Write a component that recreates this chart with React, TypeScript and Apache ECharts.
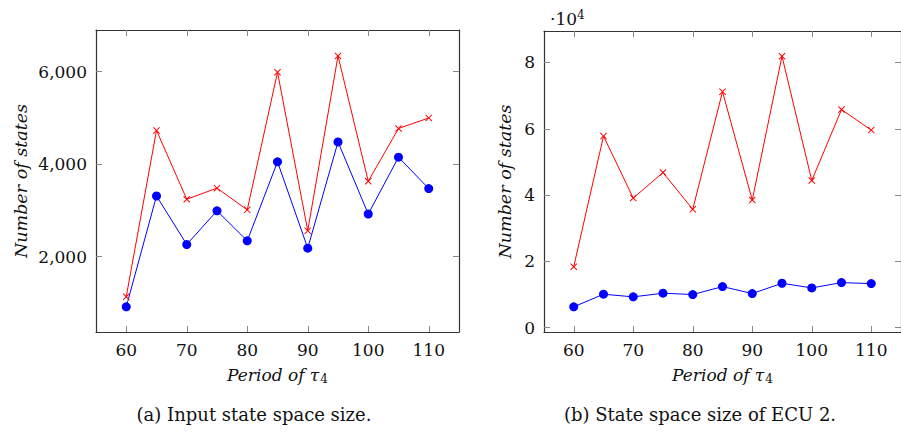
import React, { useEffect, useRef } from "react";
import * as echarts from "echarts";

const periods = [60, 65, 70, 75, 80, 85, 90, 95, 100, 105, 110];
const inputRed = [1130, 4730, 3240, 3480, 3010, 5990, 2560, 6340, 3630, 4770, 5000];
const inputBlue = [910, 3310, 2260, 2990, 2340, 4050, 2180, 4480, 2920, 4150, 3470];
const ecuRed = [18400, 57800, 39100, 46800, 35700, 71200, 38500, 81900, 44400, 65800, 59600];
const ecuBlue = [6300, 10100, 9300, 10400, 10000, 12400, 10300, 13400, 12000, 13600, 13300];
const xTicks = [60, 70, 80, 90, 100, 110];
const leftYTicks = [2000, 4000, 6000];
const rightYTicks = [0, 20000, 40000, 60000, 80000];
const captions = ["(a) Input state space size.", "(b) State space size of ECU 2."];

const SERIF = "DejaVu Serif";
const CROSS = "path://M0,1 L1,0 L5,4 L9,0 L10,1 L6,5 L10,9 L9,10 L5,6 L1,10 L0,9 L4,5 Z";

export default function App() {
  const ref = useRef<HTMLDivElement>(null);
  useEffect(() => {
    if (!ref.current) return;
    const chart = echarts.init(ref.current, null, { renderer: "svg" });
    const frame = { show: true, lineStyle: { color: "#333", width: 1.2 } };
    const tick = (vals: number[]) => ({
      show: true,
      inside: true,
      length: 6,
      customValues: vals,
      lineStyle: { color: "#888", width: 1 },
    });
    const xBase = (gridIndex: number, position: "bottom" | "top", withLabel: boolean, withName: boolean) => ({
      type: "value",
      gridIndex,
      position,
      min: 55,
      max: 115,
      axisLine: { ...frame, onZero: false },
      axisTick: tick(xTicks),
      splitLine: { show: false },
      axisLabel: {
        show: withLabel,
        customValues: xTicks,
        margin: 9,
        color: "#111",
        fontFamily: SERIF,
        fontSize: 17,
      },
      name: withName ? "Period of τ{sub|4}" : "",
      nameLocation: "middle",
      nameGap: 32,
      nameTextStyle: {
        fontFamily: SERIF,
        fontStyle: "italic",
        fontSize: 17,
        color: "#111",
        rich: {
          sub: { fontFamily: SERIF, fontStyle: "normal", fontSize: 12, verticalAlign: "bottom", padding: [9, 0, 0, 1], color: "#111" },
        },
      },
    });
    const yBase = (
      gridIndex: number,
      position: "left" | "right",
      min: number,
      max: number,
      vals: number[],
      withLabel: boolean,
      fmt: (v: number) => string,
      nameGap: number
    ) => ({
      type: "value",
      gridIndex,
      position,
      min,
      max,
      axisLine: { ...frame, onZero: false },
      axisTick: tick(vals),
      splitLine: { show: false },
      axisLabel: {
        show: withLabel,
        customValues: vals,
        margin: 9,
        color: "#111",
        fontFamily: SERIF,
        fontSize: 17,
        formatter: fmt,
      },
      name: withLabel ? "Number of states" : "",
      nameLocation: "middle",
      nameGap,
      nameTextStyle: { fontFamily: SERIF, fontStyle: "italic", fontSize: 17.5, color: "#111" },
    });
    const fmtComma = (v: number) => v.toLocaleString("en-US");
    const fmtE4 = (v: number) => String(Math.round(v / 10000));
    const pairs = (ys: number[]) => periods.map((p, i) => [p, ys[i]]);
    const blueSeries = (xi: number, yi: number, ys: number[]) => ({
      type: "line",
      xAxisIndex: xi,
      yAxisIndex: yi,
      data: pairs(ys),
      symbol: "circle",
      symbolSize: 9,
      lineStyle: { color: "#0000ff", width: 1 },
      itemStyle: { color: "#0000ff" },
    });
    const redSeries = (xi: number, yi: number, ys: number[]) => ({
      type: "line",
      xAxisIndex: xi,
      yAxisIndex: yi,
      data: pairs(ys),
      symbol: CROSS,
      symbolSize: 7,
      lineStyle: { color: "#ff0000", width: 1 },
      itemStyle: { color: "#ff0000" },
    });
    const capStyle = { fontFamily: SERIF, fontSize: 18, fontWeight: "normal", color: "#111" };
    chart.setOption({
      animation: false,
      backgroundColor: "#ffffff",
      title: [
        { text: captions[0], left: 254, top: 405, textAlign: "center", padding: 0, textStyle: capStyle },
        { text: captions[1], left: 700, top: 405, textAlign: "center", padding: 0, textStyle: capStyle },
        {
          text: "·10{sup|4}",
          left: 550,
          top: 9,
          padding: 0,
          textStyle: {
            ...capStyle,
            fontSize: 17,
            rich: { sup: { fontFamily: SERIF, fontSize: 12, verticalAlign: "top", padding: [0, 0, 8, 0], color: "#111" } },
          },
        },
      ],
      grid: [
        { left: 96, top: 30, width: 363, height: 302, containLabel: false },
        { left: 544, top: 31, width: 363, height: 301, containLabel: false },
      ],
      xAxis: [
        xBase(0, "bottom", true, true),
        xBase(0, "top", false, false),
        xBase(1, "bottom", true, true),
        xBase(1, "top", false, false),
      ],
      yAxis: [
        yBase(0, "left", 366, 6903, leftYTicks, true, fmtComma, 66),
        yBase(0, "right", 366, 6903, leftYTicks, false, fmtComma, 0),
        yBase(1, "left", -1300, 89500, rightYTicks, true, fmtE4, 30),
        yBase(1, "right", -1300, 89500, rightYTicks, false, fmtE4, 0),
      ],
      series: [
        blueSeries(0, 0, inputBlue),
        redSeries(0, 0, inputRed),
        blueSeries(2, 2, ecuBlue),
        redSeries(2, 2, ecuRed),
      ],
    });
    return () => chart.dispose();
  }, []);
  return <div ref={ref} style={{ position: "fixed", left: 0, top: 0, width: 901, height: 440 }} />;
}
